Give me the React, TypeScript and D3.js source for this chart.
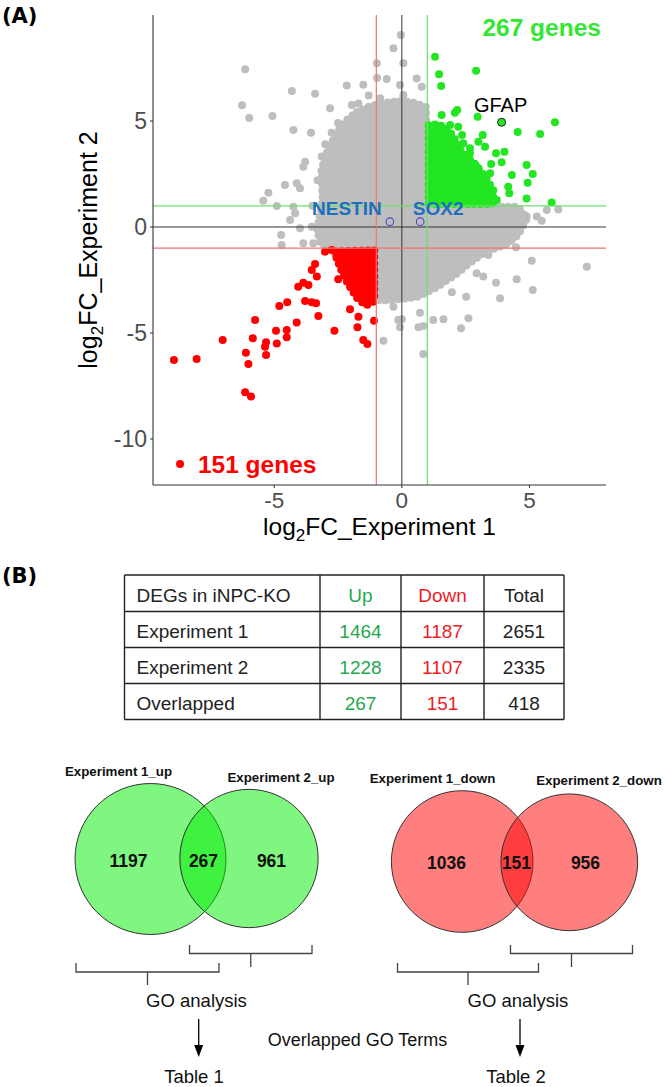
import React from 'react';
import * as d3 from 'd3';

// ---------- Panel A data (log2FC values) ----------
const xTicks = [-5, 0, 5];
const yTicks = [-10, -5, 0, 5];
const fcThreshold = 1;

const grayPoints: [number, number][] = [
  [-6.14, 7.44], [-4.31, 6.42], [-3.40, 6.29], [-2.16, 6.67], [-1.51, 6.71], [-0.98, 7.72], [-0.97, 7.03],
  [-6.26, 5.74], [-5.98, 5.14], [-5.07, 5.24], [-4.25, 4.58], [-3.56, 4.45], [-2.81, 5.60], [-1.96, 5.75],
  [-1.70, 5.83], [-2.75, 4.45], [-2.03, 4.42], [-3.79, 3.08], [-3.86, 2.84], [-3.14, 3.32], [-4.58, 1.98],
  [-4.12, 2.06], [-3.99, 1.83], [-5.23, 1.62], [-5.43, 1.24], [-4.90, 0.99], [-4.25, 0.96], [-4.18, 0.65],
  [-4.38, 0.33], [-3.99, -0.06], [-3.53, 0.01], [-4.73, -0.38], [-4.71, -0.85], [-3.86, -0.77], [-3.47, -0.77],
  [-0.04, 9.06], [-0.33, 8.43], [0.06, 7.72], [-0.59, 6.98], [-0.07, 6.70], [0.58, 7.01], [0.78, 6.62],
  [-0.85, 6.07], [0.06, 6.23], [0.45, 5.83], [-1.30, 6.20], [0.90, 5.50], [-3.00, 3.90], [-2.50, 4.90],
  [-3.30, 2.20], [-3.50, 1.00],
  [5.68, 0.80], [6.13, 0.83], [5.29, 0.49], [5.48, 0.30], [4.89, 0.49], [4.75, 0.33], [4.47, -0.96],
  [5.09, -1.59], [7.25, -1.87], [4.50, -2.47], [5.13, -2.97], [3.69, -2.63], [3.85, -3.36], [2.52, -3.29],
  [1.96, -3.08], [2.61, -4.31], [2.32, -4.78], [1.63, -4.35], [1.23, -4.39], [0.84, -4.67], [0.65, -4.73],
  [-0.14, -4.39], [0.00, -4.35], [-0.07, -4.73], [-0.72, -5.36], [0.84, -5.99], [0.71, -4.04], [-0.33, -3.76],
  [2.93, -2.18], [3.19, -2.34], [3.39, -1.32],
];

// outline of the dense (overplotted) core of non-significant genes
const grayCoreOutline: [number, number][] = [
  [-1.76, 5.42], [-1.25, 5.70], [-0.66, 5.85], [-0.07, 5.95], [0.52, 5.85], [0.95, 5.65], [0.95, 0.95],
  [4.55, 0.95], [4.90, 0.42], [4.55, -0.38], [4.15, -0.80], [3.30, -1.15], [2.60, -1.75], [2.10, -2.25],
  [1.35, -2.85], [0.60, -3.30], [-0.46, -3.45], [-0.97, -3.45], [-1.60, -2.85], [-2.35, -1.60], [-2.80, -1.05],
  [-3.18, -0.80], [-3.32, -0.14], [-3.10, 1.27], [-3.15, 2.69], [-2.90, 3.63], [-2.52, 4.50], [-2.15, 5.05],
];

const greenPoints: [number, number][] = [
  [1.30, 8.03], [1.46, 7.20], [1.54, 6.65], [2.91, 7.37], [2.17, 5.52], [2.08, 5.39], [1.56, 5.28],
  [2.97, 5.20], [6.00, 4.94], [4.54, 4.48], [5.42, 4.39], [3.17, 4.34], [3.00, 4.02], [3.26, 3.79],
  [2.67, 3.71], [3.69, 3.48], [4.02, 3.55], [3.91, 3.05], [2.93, 2.84], [4.89, 2.92], [5.13, 2.50],
  [4.31, 2.45], [3.50, 2.97], [3.46, 2.53], [4.93, 2.09], [4.17, 1.90], [4.21, 1.59], [4.89, 1.35],
  [5.87, 1.15], [3.72, 1.27], [3.52, 1.67], [1.89, 4.81], [2.36, 4.34], [2.52, 3.40], [2.08, 3.87],
  [2.21, 4.73], [1.76, 4.34], [2.41, 3.95], [2.67, 3.48],
];
const greenCoreOutline: [number, number][] = [
  [1.05, 4.8], [1.45, 4.85], [1.85, 4.55], [2.1, 4.1], [2.35, 3.5], [2.85, 3.0], [3.3, 2.3], [3.6, 1.7],
  [3.55, 1.08], [1.05, 1.08],
];

const redPoints: [number, number][] = [
  [-8.93, -6.27], [-8.04, -6.23], [-7.02, -5.33], [-6.11, -5.93], [-6.01, -6.46], [-6.14, -7.80], [-5.91, -8.00],
  [-5.75, -4.39], [-5.84, -5.25], [-5.32, -5.44], [-5.36, -5.65], [-5.32, -6.04], [-4.93, -4.89], [-4.90, -5.49],
  [-4.51, -4.86], [-4.51, -5.20], [-4.80, -3.73], [-4.49, -3.55], [-4.12, -4.51], [-3.79, -3.49], [-3.53, -3.55],
  [-3.36, -3.60], [-3.27, -4.20], [-4.06, -2.82], [-3.86, -2.63], [-3.66, -2.74], [-3.53, -2.03], [-3.33, -2.34],
  [-3.40, -1.75], [-3.01, -1.17], [-2.75, -1.08], [-2.64, -4.89], [-2.49, -2.47], [-2.03, -3.88], [-1.70, -4.23],
  [-1.74, -4.73], [-1.51, -5.33], [-1.35, -5.52], [-1.09, -4.42], [-8.69, -11.18],
];
const redCoreOutline: [number, number][] = [
  [-2.60, -1.15], [-1.08, -1.10], [-1.08, -3.50], [-1.40, -3.70], [-1.75, -3.35], [-2.10, -2.70],
  [-2.38, -2.00], [-2.56, -1.46],
];

const gfapGene = { name: 'GFAP', x: 3.91, y: 4.94 };
const markerGenes = [
  { name: 'NESTIN', x: -0.47, y: 0.25, dx: -43 },
  { name: 'SOX2', x: 0.72, y: 0.25, dx: 18 },
];
const upGenesLabel = '267 genes';
const downGenesLabel = '151 genes';

// ---------- Panel B data ----------
const tableHeader = ['DEGs in iNPC-KO', 'Up', 'Down', 'Total'];
const rowLabels = ['Experiment 1', 'Experiment 2', 'Overlapped'];
const upCounts = [1464, 1228, 267];
const downCounts = [1187, 1107, 151];
const totalCounts = [2651, 2335, 418];

const vennUpLabels = ['Experiment 1_up', 'Experiment 2_up'];
const vennUpSizes = [1464, 1228];
const vennUpRegions = [1197, 267, 961];
const vennDownLabels = ['Experiment 1_down', 'Experiment 2_down'];
const vennDownSizes = [1187, 1107];
const vennDownRegions = [1036, 151, 956];

const SANS = "'Liberation Sans', Arial, Helvetica, sans-serif";
const DEJAVU = "'DejaVu Sans', Verdana, sans-serif";

const GRAY = '#bebebe';
const GREEN = '#22e622';
const RED = '#ff0000';

export default function App() {
  // Panel A scales
  const x = d3.scaleLinear().domain([-9.75, 8.0]).range([153, 606]);
  const y = d3.scaleLinear().domain([-12.17, 10.0]).range([485, 15]);
  const [x0, x1] = x.range();
  const [y0, y1] = y.range();
  const blob = d3
    .line<[number, number]>()
    .x((d) => x(d[0]))
    .y((d) => y(d[1]))
    .curve(d3.curveLinearClosed);
  const R = 4;

  // dense cores: filled outline with a dotted edge of point-sized dots
  const core = (outline: [number, number][], color: string) => (
    <g>
      <path d={blob(outline) || ''} fill={color} />
      <path
        d={blob(outline) || ''}
        fill="none"
        stroke={color}
        strokeWidth={2 * R}
        strokeLinecap="round"
        strokeDasharray="0 6.5"
      />
    </g>
  );

  // Table layout
  const colEdges = [124.5, 320, 401, 484, 564];
  const rowEdges = [575, 611.5, 647.5, 683.5, 719.5];
  const colMid = (i: number) => (colEdges[i] + colEdges[i + 1]) / 2;
  const TGREEN = '#1fa84f';
  const TRED = '#ee1c24';

  // Venn layout
  const rUp = d3.scaleSqrt().domain([0, vennUpSizes[0]]).range([0, 75.5]);
  const rDown = d3.scaleSqrt().domain([0, vennDownSizes[0]]).range([0, 70.8]);
  const upCircles = [
    { cx: 150.5, cy: 859, r: rUp(vennUpSizes[0]) },
    { cx: 249, cy: 858.5, r: rUp(vennUpSizes[1]) },
  ];
  const downCircles = [
    { cx: 462.2, cy: 861.5, r: rDown(vennDownSizes[0]) },
    { cx: 569.3, cy: 862.3, r: rDown(vennDownSizes[1]) },
  ];

  const venn = (
    circles: { cx: number; cy: number; r: number }[],
    fill: string,
    labels: string[],
    regions: number[],
    labelPos: { x: number; y: number }[],
    numX: number[],
    numY: number,
    key: string
  ) => (
    <g key={key}>
      {circles.map((c, i) => (
        <circle key={i} cx={c.cx} cy={c.cy} r={c.r} fill={fill} fillOpacity={0.5} stroke="#333" strokeWidth={1} />
      ))}
      {labels.map((l, i) => (
        <text key={l} x={labelPos[i].x} y={labelPos[i].y} textAnchor="middle" fontFamily={SANS} fontWeight="bold" fontSize={13.3} fill="#111">
          {l}
        </text>
      ))}
      {regions.map((v, i) => (
        <text key={i} x={numX[i]} y={numY} textAnchor="middle" fontFamily={SANS} fontWeight="bold" fontSize={17.5} fill="#111">
          {v}
        </text>
      ))}
    </g>
  );

  const bracket = (xa: number, xb: number, top: number, h: number, tick: number, key: string) => {
    const mid = (xa + xb) / 2;
    return (
      <path
        key={key}
        d={`M${xa},${top} V${h} H${xb} V${top} M${mid},${h} V${tick}`}
        fill="none"
        stroke="#444"
        strokeWidth={1.3}
      />
    );
  };

  const arrow = (ax: number, key: string) => (
    <g key={key}>
      <line x1={ax} x2={ax} y1={1019} y2={1047} stroke="#000" strokeWidth={1.3} />
      <path d={`M${ax - 4.5},${1045} L${ax + 4.5},${1045} L${ax},${1057} Z`} fill="#000" />
    </g>
  );

  return (
    <svg
      width={666}
      height={1087}
      style={{ position: 'absolute', left: 0, top: 0, background: '#fff' }}
      xmlns="http://www.w3.org/2000/svg"
    >
      <rect x={0} y={0} width={666} height={1087} fill="#fff" />

      {/* ---------------- Panel A ---------------- */}
      <text x={2} y={23} fontFamily={DEJAVU} fontWeight="bold" fontSize={21} fill="#000">
        (A)
      </text>

      {/* gray non-significant genes */}
      {core(grayCoreOutline, GRAY)}
      {grayPoints.map((p, i) => (
        <circle key={'g' + i} cx={x(p[0])} cy={y(p[1])} r={R} fill={GRAY} />
      ))}

      {/* red: down in both */}
      {core(redCoreOutline, RED)}
      {redPoints.map((p, i) => (
        <circle key={'r' + i} cx={x(p[0])} cy={y(p[1])} r={R} fill={RED} />
      ))}

      {/* green: up in both */}
      {core(greenCoreOutline, GREEN)}
      {greenPoints.map((p, i) => (
        <circle key={'u' + i} cx={x(p[0])} cy={y(p[1])} r={R} fill={GREEN} />
      ))}

      {/* reference lines */}
      <line x1={x(0)} x2={x(0)} y1={y1} y2={y0} stroke="#333" strokeWidth={1} />
      <line x1={x0} x2={x1} y1={y(0)} y2={y(0)} stroke="#333" strokeWidth={1} />
      <line x1={x(fcThreshold)} x2={x(fcThreshold)} y1={y1} y2={y0} stroke="#6fe06f" strokeWidth={1.2} />
      <line x1={x0} x2={x1} y1={y(fcThreshold)} y2={y(fcThreshold)} stroke="#6fe06f" strokeWidth={1.2} />
      <line x1={x(-fcThreshold)} x2={x(-fcThreshold)} y1={y1} y2={y0} stroke="#f07070" strokeWidth={1.2} />
      <line x1={x0} x2={x1} y1={y(-fcThreshold)} y2={y(-fcThreshold)} stroke="#f07070" strokeWidth={1.2} />

      {/* highlighted genes */}
      <circle cx={x(gfapGene.x)} cy={y(gfapGene.y)} r={R} fill={GREEN} stroke="#222" strokeWidth={1} />
      <text x={x(gfapGene.x) - 1} y={y(gfapGene.y) - 10.5} textAnchor="middle" fontFamily={SANS} fontSize={20} fill="#000">
        {gfapGene.name}
      </text>
      {markerGenes.map((g) => (
        <g key={g.name}>
          <circle cx={x(g.x)} cy={y(g.y)} r={3.8} fill="none" stroke="#4848c8" strokeWidth={1.1} />
          <text x={x(g.x) + g.dx} y={y(g.y) - 7} textAnchor="middle" fontFamily={SANS} fontWeight="bold" fontSize={19} fill="#1f6fbf">
            {g.name}
          </text>
        </g>
      ))}

      <text x={x(7.8)} y={y(9.0)} textAnchor="end" fontFamily={SANS} fontWeight="bold" fontSize={24.5} fill="#33e633">
        {upGenesLabel}
      </text>
      <text x={x(-7.99)} y={y(-11.6)} fontFamily={SANS} fontWeight="bold" fontSize={24.5} fill={RED}>
        {downGenesLabel}
      </text>

      {/* axes */}
      <line x1={x0} x2={x0} y1={y1} y2={y0} stroke="#333" strokeWidth={1.1} />
      <line x1={x0} x2={x1} y1={y0} y2={y0} stroke="#333" strokeWidth={1.1} />
      {yTicks.map((t) => (
        <g key={'yt' + t}>
          <line x1={x0 - 3} x2={x0} y1={y(t)} y2={y(t)} stroke="#333" />
          <text x={x0 - 6} y={y(t)} dy="0.36em" textAnchor="end" fontFamily={SANS} fontSize={23} fill="#4d4d4d">
            {t}
          </text>
        </g>
      ))}
      {xTicks.map((t) => (
        <g key={'xt' + t}>
          <line x1={x(t)} x2={x(t)} y1={y0} y2={y0 + 3} stroke="#333" />
          <text x={x(t)} y={508} textAnchor="middle" fontFamily={SANS} fontSize={22.5} fill="#4d4d4d">
            {t}
          </text>
        </g>
      ))}
      <text x={(x0 + x1) / 2} y={535} textAnchor="middle" fontFamily={SANS} fontSize={24.5} fill="#000">
        <tspan>log</tspan>
        <tspan fontSize={17} dy={6}>2</tspan>
        <tspan dy={-6}>FC_Experiment 1</tspan>
      </text>
      <text transform={`translate(97,${(y0 + y1) / 2}) rotate(-90)`} textAnchor="middle" fontFamily={SANS} fontSize={25} fill="#000">
        <tspan>log</tspan>
        <tspan fontSize={17} dy={6}>2</tspan>
        <tspan dy={-6}>FC_Experiment 2</tspan>
      </text>

      {/* ---------------- Panel B ---------------- */}
      <text x={2} y={583} fontFamily={DEJAVU} fontWeight="bold" fontSize={21} fill="#000">
        (B)
      </text>

      {/* table */}
      <g stroke="#222" strokeWidth={1.4}>
        {colEdges.map((c, i) => (
          <line key={'c' + i} x1={c} x2={c} y1={rowEdges[0]} y2={rowEdges[rowEdges.length - 1]} />
        ))}
        {rowEdges.map((r, i) => (
          <line key={'r' + i} x1={colEdges[0]} x2={colEdges[colEdges.length - 1]} y1={r} y2={r} />
        ))}
      </g>
      <g fontFamily={SANS} fontSize={19}>
        {tableHeader.map((h, i) => (
          <text
            key={h}
            x={i === 0 ? colEdges[0] + 12 : colMid(i)}
            y={rowEdges[0] + 26.5}
            textAnchor={i === 0 ? 'start' : 'middle'}
            fill={i === 1 ? TGREEN : i === 2 ? TRED : '#222'}
          >
            {h}
          </text>
        ))}
        {rowLabels.map((lab, r) => (
          <g key={lab}>
            <text x={colEdges[0] + 12} y={rowEdges[r + 1] + 26.5} fill="#222">
              {lab}
            </text>
            <text x={colMid(1)} y={rowEdges[r + 1] + 26.5} textAnchor="middle" fill={TGREEN}>
              {upCounts[r]}
            </text>
            <text x={colMid(2)} y={rowEdges[r + 1] + 26.5} textAnchor="middle" fill={TRED}>
              {downCounts[r]}
            </text>
            <text x={colMid(3)} y={rowEdges[r + 1] + 26.5} textAnchor="middle" fill="#222">
              {totalCounts[r]}
            </text>
          </g>
        ))}
      </g>

      {/* Venn diagrams */}
      {venn(upCircles, '#00ee00', vennUpLabels, vennUpRegions, [{ x: 118.5, y: 776 }, { x: 281, y: 782 }], [128.5, 203.5, 271.5], 866.5, 'vu')}
      {venn(downCircles, '#ff0000', vennDownLabels, vennDownRegions, [{ x: 432.5, y: 783 }, { x: 599, y: 785 }], [446.5, 516.5, 585.5], 868.5, 'vd')}

      {/* brackets */}
      {bracket(76, 219, 963, 972, 985, 'b1')}
      {bracket(189.5, 312, 945, 953.5, 967, 'b2')}
      {bracket(397.5, 538.5, 963, 972, 985, 'b3')}
      {bracket(510.5, 632.5, 945, 953.5, 967, 'b4')}

      <g fontFamily={SANS} fontSize={18.5} fill="#111" textAnchor="middle">
        <text x={196.5} y={1007}>GO analysis</text>
        <text x={518} y={1007}>GO analysis</text>
        <text x={357.5} y={1045.5} fontSize={18}>Overlapped GO Terms</text>
        <text x={194} y={1082.5}>Table 1</text>
        <text x={516} y={1082.5}>Table 2</text>
      </g>
      {arrow(198.7, 'a1')}
      {arrow(520, 'a2')}
    </svg>
  );
}
